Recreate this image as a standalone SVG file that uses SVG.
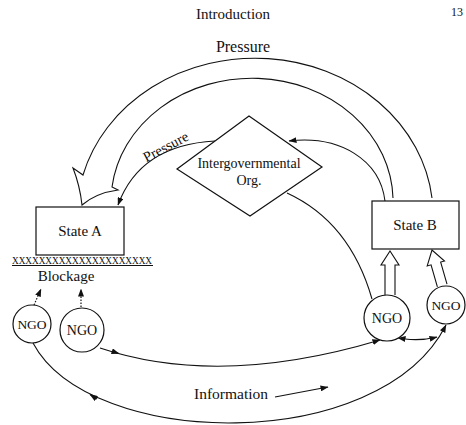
<svg xmlns="http://www.w3.org/2000/svg" width="466" height="425" viewBox="0 0 466 425">
<defs>
<marker id="ah" viewBox="0 0 8 6" refX="7.5" refY="3" markerWidth="8" markerHeight="6" markerUnits="userSpaceOnUse" orient="auto">
<path d="M0,0 L8,3 L0,6 Z" fill="#111"/>
</marker>
<marker id="ahs" viewBox="0 0 8 6" refX="0.5" refY="3" markerWidth="8" markerHeight="6" markerUnits="userSpaceOnUse" orient="auto-start-reverse">
<path d="M0,0 L8,3 L0,6 Z" fill="#111"/>
</marker>
<path id="hollow3" d="M-5,44 L-5,14 L-9,14 L0,0 L9,14 L5,14 L5,44"/>
<path id="hollow4" d="M-5,37 L-5,14 L-9,14 L0,0 L9,14 L5,14 L5,37"/>
</defs>
<style>
text{font-family:"Liberation Serif","DejaVu Serif",serif;fill:#111}
.ln{fill:none;stroke:#111;stroke-width:1.1}
.box{fill:#fff;stroke:#111;stroke-width:1.2}
.dot{fill:none;stroke:#111;stroke-width:1.2;stroke-dasharray:1.5,1.5}
.hol{fill:#fff;stroke:#111;stroke-width:1.1;stroke-linejoin:miter}
</style>
<rect width="466" height="425" fill="#fff"/>
<text x="233" y="19" font-size="15" text-anchor="middle">Introduction</text>
<text x="457" y="16" font-size="12" text-anchor="middle">13</text>
<text x="243" y="52" font-size="16" text-anchor="middle">Pressure</text>

<g id="connectors">
<path class="ln" d="M432,198 A178,157 0 0 0 83,175 L73,168 Q80,186 82,205 Q96,193 118,190 L112,187 A141,123 0 0 1 393,198"/>
<path class="ln" d="M215,141 Q140,145 118,205" marker-end="url(#ah)"/>
<path class="ln" d="M385,201 C380,160 340,135 289,141" marker-end="url(#ah)"/>
<path class="ln" d="M287,193 Q350,222 372,299"/>
<use href="#hollow3" class="hol" transform="translate(390,251)"/>
<use href="#hollow4" class="hol" transform="translate(432,250) rotate(-16)"/>
<path class="dot" d="M34,305 L41,289" marker-end="url(#ah)"/>
<path class="dot" d="M81,307 L81,289" marker-end="url(#ah)"/>
<path class="ln" d="M100,348 Q220,388 380,340" marker-end="url(#ah)"/>
<path class="ln" d="M112,351.3 L119,353.6" marker-end="url(#ah)"/>
<path class="ln" d="M33,343 C90,450 380,455 446,325" marker-end="url(#ah)"/>
<path class="ln" d="M97,399 L90,394.5" marker-end="url(#ah)"/>
<path class="ln" d="M405,339 Q421,341 437,337" marker-start="url(#ahs)" marker-end="url(#ah)"/>
<path class="ln" d="M275,397 L328,387" marker-end="url(#ah)"/>
</g>

<text font-size="14.5" text-anchor="middle" transform="translate(168,151) rotate(-28)">Pressure</text>
<text x="231" y="399" font-size="15.5" text-anchor="middle">Information</text>

<g id="igo">
<polygon class="box" points="249,116 322,167 250,216 177,169"/>
<text x="249" y="168" font-size="14" text-anchor="middle">Intergovernmental</text>
<text x="249" y="185" font-size="14" text-anchor="middle">Org.</text>
</g>
<g id="stateA">
<rect class="box" x="36" y="207" width="88" height="48"/>
<text x="80" y="236" font-size="15" text-anchor="middle">State A</text>
</g>
<g id="stateB">
<rect class="box" x="372" y="201" width="87" height="48"/>
<text x="415" y="230" font-size="15" text-anchor="middle">State B</text>
</g>
<g id="blockage">
<text x="12" y="264" font-size="10" textLength="140" lengthAdjust="spacingAndGlyphs">XXXXXXXXXXXXXXXXXXXXX</text>
<line x1="12" y1="265.5" x2="153" y2="265.5" stroke="#111" stroke-width="1"/>
<text x="66" y="281" font-size="15" text-anchor="middle">Blockage</text>
</g>
<g id="ngo1">
<circle class="box" cx="32" cy="324" r="19"/>
<text x="32" y="329" font-size="13.5" text-anchor="middle">NGO</text>
</g>
<g id="ngo2">
<circle class="box" cx="82" cy="330" r="22"/>
<text x="82" y="335" font-size="14" text-anchor="middle">NGO</text>
</g>
<g id="ngo3">
<circle class="box" cx="387" cy="318" r="23"/>
<text x="387" y="323" font-size="14" text-anchor="middle">NGO</text>
</g>
<g id="ngo4">
<circle class="box" cx="446" cy="305" r="19"/>
<text x="446" y="310" font-size="13.5" text-anchor="middle">NGO</text>
</g>
</svg>
